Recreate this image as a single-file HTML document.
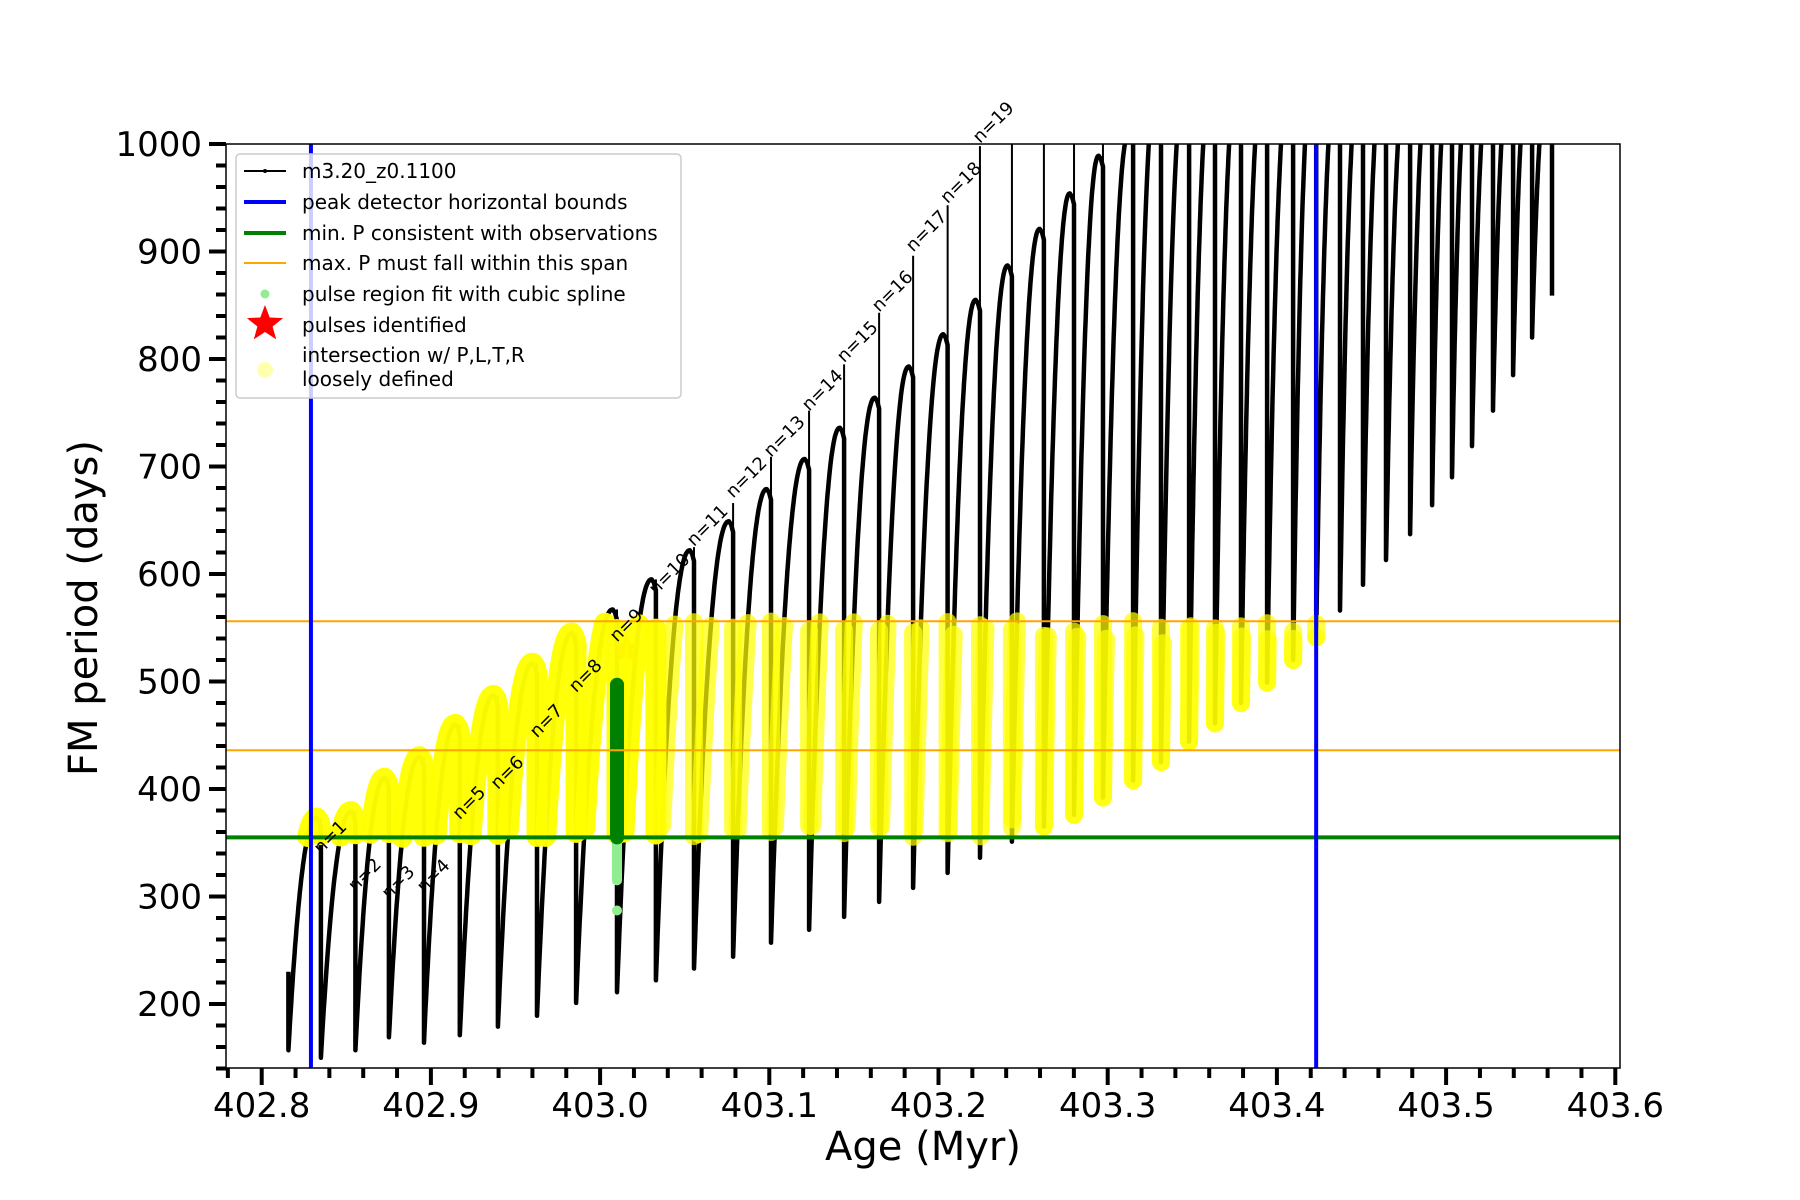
<!DOCTYPE html>
<html><head><meta charset="utf-8"><style>
html,body{margin:0;padding:0;background:#fff;}
svg{display:block;font-family:"DejaVu Sans","Liberation Sans",sans-serif;}
</style></head><body>
<svg id="chart" width="1800" height="1200" viewBox="0 0 1800 1200" xmlns="http://www.w3.org/2000/svg">
<defs><clipPath id="plotclip"><rect x="226" y="144" width="1394" height="924"/></clipPath></defs>
<rect x="226" y="144" width="1394" height="924" fill="#fff"/>
<g id="plot" clip-path="url(#plotclip)"></g>
<g id="labels"></g>
<rect x="226" y="144" width="1394" height="924" fill="none" stroke="#000" stroke-width="1.5"/>
<g id="ticks"></g>
<text x="923" y="1160" font-size="40" text-anchor="middle">Age (Myr)</text>
<text x="0" y="0" font-size="40" text-anchor="middle" transform="translate(97,608) rotate(-90)">FM period (days)</text>
<g>
<rect x="236" y="154" width="445" height="244" rx="4" fill="#fff" fill-opacity="0.8" stroke="#ccc" stroke-width="1.5"/>
<g><line x1="244" y1="171" x2="286" y2="171" stroke="#000" stroke-width="2"/><circle cx="265" cy="171" r="2" fill="#000"/><text x="302" y="178" font-size="20">m3.20_z0.1100</text></g>
<g><line x1="244" y1="202" x2="286" y2="202" stroke="#0000ff" stroke-width="4"/><text x="302" y="209" font-size="20">peak detector horizontal bounds</text></g>
<g><line x1="244" y1="233" x2="286" y2="233" stroke="#008000" stroke-width="4"/><text x="302" y="240" font-size="20">min. P consistent with observations</text></g>
<g><line x1="244" y1="263" x2="286" y2="263" stroke="#ffa500" stroke-width="2"/><text x="302" y="270" font-size="20">max. P must fall within this span</text></g>
<g><circle cx="265" cy="294" r="4.5" fill="#90ee90"/><text x="302" y="301" font-size="20">pulse region fit with cubic spline</text></g>
<g><polygon id="legstar" fill="#ff0000"/><text x="302" y="332" font-size="20">pulses identified</text></g>
<g><circle cx="265" cy="370" r="8" fill="#ffffb0"/><text x="302" y="362" font-size="20">intersection w/ P,L,T,R</text><text x="302" y="386" font-size="20">loosely defined</text></g>
</g>
</svg>
<script>
// ---- data ----
const dropAges = [402.8350,402.8554,402.8752,402.8959,402.9171,402.9396,402.9627,402.9858,403.0100,403.0330,
403.0555,403.0786,403.1010,403.1235,403.1442,403.1649,403.1850,403.2054,403.2245,403.2434,
403.2623,403.2801,403.2972,403.3150,403.3315,403.3481,403.3634,403.3788,403.3942,403.4096,
403.4232,403.4373,403.4509,403.4645,403.4787,403.4917,403.5035,403.5153,403.5277,403.5396,
403.5508,403.5626];
const minVals = [150,157,169,164,171,179,189,201,211,222,233,244,257,269,281,295,308,322,336,351,
365,376,392,408,425,444,461,480,499,520,541,566,590,613,637,664,690,719,752,785,820,859];
const peakVals = [373,379,410,430,460,487,517,545,567,595,622,649,679,707,736,764,793,823,855,887,
921,954,989,1010,1060,1060,1060,1060,1060,1060,1060,1060,1060,1060,1060,1060,1060,1060,1060,1060,1060,1060];
const spikeVals = [373,379,410,430,460,487,517,545,567,595,625,666,709,752,795,843,896,943,998,1100,
1100,1100,1100,1100,1100,1100,1100,1100,1100,1100,1100,1100,1100,1100,1100,1100,1100,1100,1100,1100,1100,1100];
const startAge = 402.8158, startVal = 230, startMin = 157;
const labelVals = [339,304,297,303,371,399,447,489,536,580,625,670,708,751,796,843,899,944,1000];
const boundAges = [402.8291, 403.4232];
const minP = 355;
const maxPSpan = [436, 556];
const splineDark = [355, 497];
const splineLight = [287, 315, 355];
const pulseAge = 403.0154, pulseVal = 530;
const xTicks = [402.8,402.9,403.0,403.1,403.2,403.3,403.4,403.5,403.6];
const yTicks = [200,300,400,500,600,700,800,900,1000];

// ---- scales ----
const X = a => 261.7 + (a - 402.8) * 1692;
const Y = v => 144 + (1000 - v) * 1.075;
const NS = 'http://www.w3.org/2000/svg';
const plot = document.getElementById('plot');
const labels = document.getElementById('labels');
const ticks = document.getElementById('ticks');
function mk(tag, attrs, parent){const e=document.createElementNS(NS,tag);for(const k in attrs)e.setAttribute(k,attrs[k]);parent.appendChild(e);return e;}
function pts(arr){return arr.map(p=>X(p[0]).toFixed(1)+','+Y(p[1]).toFixed(1)).join(' ');}

// ---- build curve ----
const pulses = [];
let prevAge = startAge, prevMin = startMin;
for (let i = 0; i < dropAges.length; i++) {
  const seg = [];
  const pkAge = dropAges[i] - 0.0025;
  const n = 60;
  for (let k = 0; k <= n; k++) {
    const t = k / n;
    seg.push([prevAge + (pkAge - prevAge) * t, prevMin + (peakVals[i] - prevMin) * (1 - Math.pow(1 - t, 2.2))]);
  }
  seg.push([dropAges[i] - 0.0012, peakVals[i] - 3]);
  const top = peakVals[i] - 10;
  const m = 40;
  for (let k = 0; k <= m; k++) {
    seg.push([dropAges[i], top + (minVals[i] - top) * k / m]);
  }
  pulses.push(seg);
  prevAge = dropAges[i]; prevMin = minVals[i];
}
// black model line
const all = [[startAge, startVal]];
pulses.forEach(s => s.forEach(p => all.push(p)));
const line = mk('polyline', {points: pts(all), fill: 'none', stroke: '#000', 'stroke-width': 4.5, 'stroke-linejoin': 'round'}, plot);


// spikes
dropAges.forEach((a, i) => {
  if (spikeVals[i] > peakVals[i] - 10) {
    const s = mk('line', {x1: X(a), y1: Y(peakVals[i] - 10), x2: X(a), y2: Y(spikeVals[i]), stroke: '#000', 'stroke-width': 2}, plot);
    
    
  }
});
// red star (behind yellow)
function starPts(cx, cy, r){const o=[];for(let k=0;k<10;k++){const ang=-Math.PI/2+k*Math.PI/5;const rr=k%2?r*0.42:r;o.push((cx+rr*Math.cos(ang)).toFixed(1)+','+(cy+rr*Math.sin(ang)).toFixed(1));}return o.join(' ');}
const star = mk('polygon', {points: starPts(X(pulseAge), Y(pulseVal), 16), fill: '#ff0000'}, plot);


// yellow intersection regions
pulses.forEach((seg, i) => {
  let run = [];
  const runs = [];
  seg.forEach(p => {
    const ok = p[1] >= minP && p[1] <= maxPSpan[1] && p[0] <= boundAges[1] + 0.0005;
    if (ok) run.push(p); else { if (run.length) runs.push(run); run = []; }
  });
  if (run.length) runs.push(run);
  runs.forEach(r => {
    if (r.length === 1) r.push([r[0][0], r[0][1] + 0.5]);
    const y = mk('polyline', {points: pts(r), fill: 'none', stroke: '#ffff00', 'stroke-width': i < 10 ? 21 : 18, 'stroke-linecap': 'round', 'stroke-linejoin': 'round', 'stroke-opacity': i < 10 ? 0.97 : 0.72}, plot);
    
    
  });
});
// spline fit region
const gl = mk('line', {x1: X(dropAges[8]), y1: Y(splineLight[1]), x2: X(dropAges[8]), y2: Y(splineLight[2]), stroke: '#90ee90', 'stroke-width': 10, 'stroke-linecap': 'round'}, plot);


const gd = mk('circle', {cx: X(dropAges[8]), cy: Y(splineLight[0]), r: 5, fill: '#90ee90'}, plot);


const gk = mk('line', {x1: X(dropAges[8]), y1: Y(splineDark[0]), x2: X(dropAges[8]), y2: Y(splineDark[1]), stroke: '#008000', 'stroke-width': 14, 'stroke-linecap': 'round'}, plot);


// reference lines
maxPSpan.forEach(v => {
  const o = mk('line', {x1: 226, x2: 1620, y1: Y(v), y2: Y(v), stroke: '#ffa500', 'stroke-width': 2}, plot);
  
  
});
const gm = mk('line', {x1: 226, x2: 1620, y1: Y(minP), y2: Y(minP), stroke: '#008000', 'stroke-width': 4}, plot);


boundAges.forEach(a => {
  const b = mk('line', {x1: X(a), x2: X(a), y1: 144, y2: 1068, stroke: '#0000ff', 'stroke-width': 4}, plot);
  
  
});
// n= labels
labelVals.forEach((v, i) => {
  const ax = X(dropAges[i]), ay = Y(v);
  const t = mk('text', {x: 0, y: 0, 'font-size': 18, transform: `translate(${ax.toFixed(1)},${ay.toFixed(1)}) rotate(-45)`}, labels);
  t.textContent = 'n=' + (i + 1);
  
  
});
// legend star
document.getElementById('legstar').setAttribute('points', starPts(265, 324, 19));
// ---- ticks ----
for (let k = 0; k <= 41; k++) {
  const a = 402.78 + k * 0.02;
  const x = X(a);
  if (x < 225 || x > 1621) continue;
  const major = Math.abs(Math.round(a * 10) - a * 10) < 1e-6;
  const tk = mk('line', {x1: x, x2: x, y1: 1068, y2: 1068 + (major ? 17 : 10), stroke: '#000', 'stroke-width': 4}, ticks);
  
  
}
xTicks.forEach(a => {
  const t = mk('text', {x: X(a), y: 1117, 'font-size': 34, 'text-anchor': 'middle'}, ticks);
  t.textContent = a.toFixed(1);
  
  
});
for (let v = 140; v <= 1000; v += 20) {
  const y = Y(v);
  const major = v % 100 === 0;
  const tk = mk('line', {x1: 226, x2: 226 - (major ? 17 : 10), y1: y, y2: y, stroke: '#000', 'stroke-width': 4}, ticks);
  
  
}
yTicks.forEach(v => {
  const t = mk('text', {x: 202, y: Y(v) + 12, 'font-size': 34, 'text-anchor': 'end'}, ticks);
  t.textContent = v;
  
  
});
</script>
</body></html>
